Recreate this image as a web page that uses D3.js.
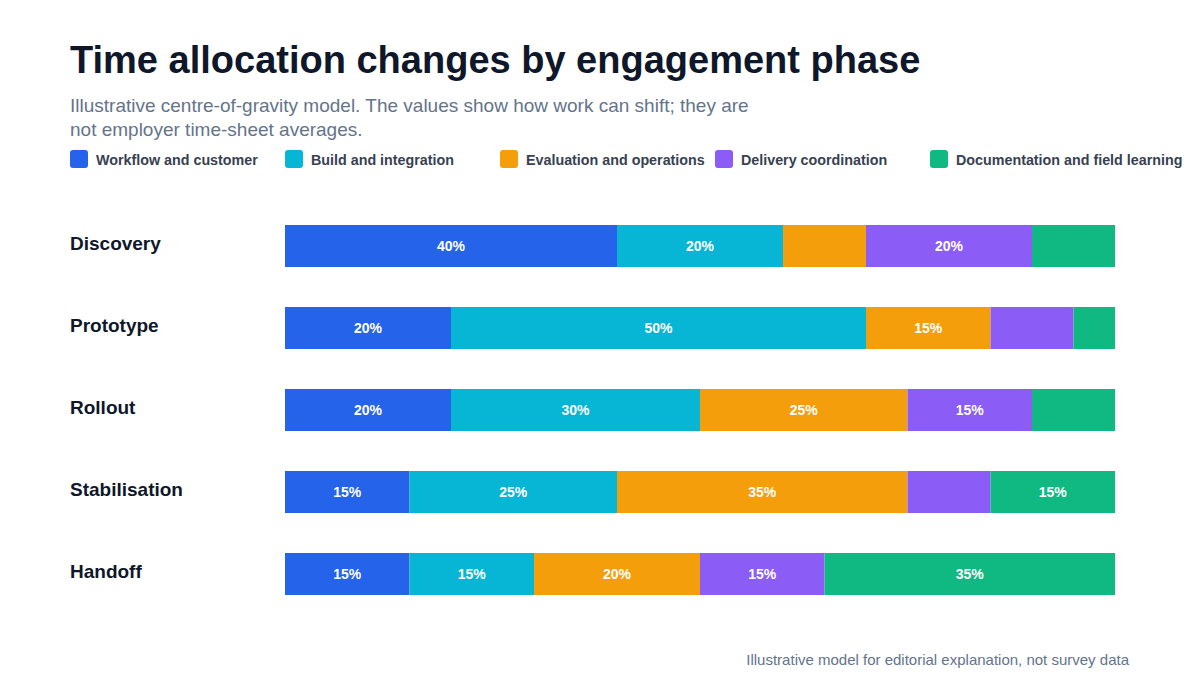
<!DOCTYPE html>
<html>
<head>
<meta charset="utf-8">
<script src="https://d3js.org/d3.v7.min.js"></script>
<style>
body { margin: 0; background: #fff; font-family: "Liberation Sans", Arial, sans-serif; }
svg { display: block; }
</style>
</head>
<body>
<svg width="1200" height="700"></svg>
<script>
const phases = ["Discovery", "Prototype", "Rollout", "Stabilisation", "Handoff"];
const series = ["Workflow and customer", "Build and integration", "Evaluation and operations", "Delivery coordination", "Documentation and field learning"];
const colors = ["#2563eb", "#06b6d4", "#f59e0b", "#8b5cf6", "#10b981"];
const workflow = [40, 20, 20, 15, 15];
const build = [20, 50, 30, 25, 15];
const evaluation = [10, 15, 25, 35, 20];
const delivery = [20, 10, 15, 10, 15];
const docs = [10, 5, 10, 15, 35];
const values = [workflow, build, evaluation, delivery, docs];

const svg = d3.select("svg");

svg.append("text").attr("x", 70).attr("y", 73)
  .attr("font-size", 38).attr("font-weight", "bold").attr("fill", "#0f172a")
  .text("Time allocation changes by engagement phase");
svg.append("text").attr("x", 70).attr("y", 112)
  .attr("font-size", 19).attr("fill", "#64748b")
  .text("Illustrative centre-of-gravity model. The values show how work can shift; they are");
svg.append("text").attr("x", 70).attr("y", 136)
  .attr("font-size", 19).attr("fill", "#64748b")
  .text("not employer time-sheet averages.");

// legend
const leg = svg.selectAll("g.leg").data(series).enter().append("g")
  .attr("transform", (d, i) => `translate(${70 + i * 215},150)`);
leg.append("rect").attr("width", 18).attr("height", 18).attr("rx", 3)
  .attr("fill", (d, i) => colors[i]);
leg.append("text").attr("x", 26).attr("y", 15)
  .attr("font-size", 14.3).attr("font-weight", "bold").attr("fill", "#374151")
  .text(d => d);

const x = d3.scaleLinear().domain([0, 100]).range([285, 1115]);
const y = d3.scaleBand().domain(phases).range([225, 595]).paddingInner(40 / 82).paddingOuter(0);

const stacked = d3.stack().keys(d3.range(series.length))(
  phases.map((p, j) => values.map(v => v[j]))
);

stacked.forEach((layer, si) => {
  layer.forEach((seg, j) => {
    const p = phases[j];
    svg.append("rect")
      .attr("x", x(seg[0])).attr("y", y(p))
      .attr("width", x(seg[1]) - x(seg[0])).attr("height", y.bandwidth())
      .attr("fill", colors[si]);
    const v = seg[1] - seg[0];
    if (v >= 15) {
      svg.append("text")
        .attr("x", (x(seg[0]) + x(seg[1])) / 2).attr("y", y(p) + y.bandwidth() / 2 + 5)
        .attr("text-anchor", "middle").attr("font-size", 14).attr("font-weight", "bold")
        .attr("fill", "#fff").text(v + "%");
    }
  });
});

svg.selectAll("text.phase").data(phases).enter().append("text")
  .attr("x", 70).attr("y", d => y(d) + y.bandwidth() / 2 + 4)
  .attr("font-size", 19).attr("font-weight", "bold").attr("fill", "#0f172a")
  .text(d => d);

svg.append("text").attr("x", 1129).attr("y", 665).attr("text-anchor", "end")
  .attr("font-size", 15).attr("fill", "#64748b")
  .text("Illustrative model for editorial explanation, not survey data");
</script>
</body>
</html>
